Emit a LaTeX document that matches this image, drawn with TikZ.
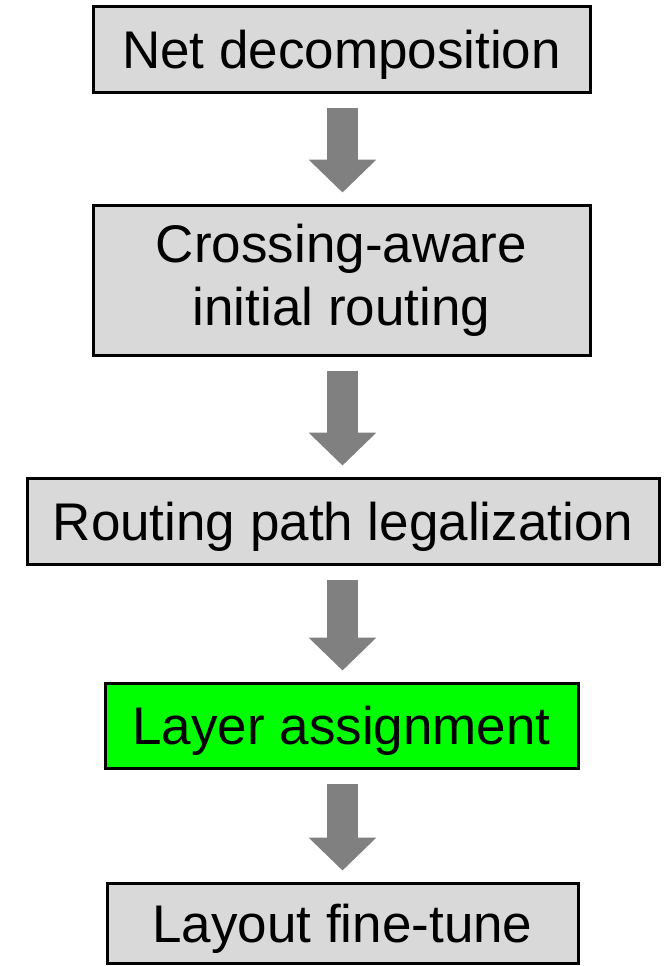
\documentclass[tikz,border=0pt]{standalone}
\usepackage{fontspec}
\setmainfont{Liberation Sans}
\usepackage{xcolor}
\definecolor{boxgray}{HTML}{D9D9D9}
\definecolor{boxgreen}{HTML}{00FF00}
\definecolor{arrowgray}{HTML}{808080}
\usetikzlibrary{arrows.meta,positioning}

\begin{document}
\begin{tikzpicture}[x=1pt,y=-1pt,
  stage/.style={draw=black,line width=3pt,fill=boxgray,inner sep=0pt,
    align=center,font=\fontsize{53}{63}\selectfont},
  oneline/.style={stage,text depth=0pt},
  flowarrow/.style={arrowgray,line width=31pt,shorten <=14pt,shorten >=11pt,
    -{Triangle[length=33pt,width=66pt]}}]
  \useasboundingbox (0,0) rectangle (669,966);
  % stages
  \node[oneline,minimum width=497pt,minimum height=85pt] (netdec) at (341.5,49.5) {Net decomposition};
  \node[stage,minimum width=497pt,minimum height=150pt] (initroute) at (341.5,280) {Crossing-aware\\initial routing};
  \node[oneline,minimum width=632pt,minimum height=86pt] (legal) at (343,521) {Routing path legalization};
  \node[oneline,fill=boxgreen,minimum width=473pt,minimum height=85pt] (layer) at (341.5,725.5) {Layer assignment};
  \node[oneline,minimum width=471pt,minimum height=80pt] (finetune) at (342.5,923) {Layout fine-tune};
  % arrows
  \draw[flowarrow] (342.5,0 |- netdec.south) -- (342.5,0 |- initroute.north);
  \draw[flowarrow] (342.5,0 |- initroute.south) -- (342.5,0 |- legal.north);
  \draw[flowarrow] (342.5,0 |- legal.south) -- (342.5,0 |- layer.north);
  \draw[flowarrow] (342.5,0 |- layer.south) -- (342.5,0 |- finetune.north);
\end{tikzpicture}
\end{document}
